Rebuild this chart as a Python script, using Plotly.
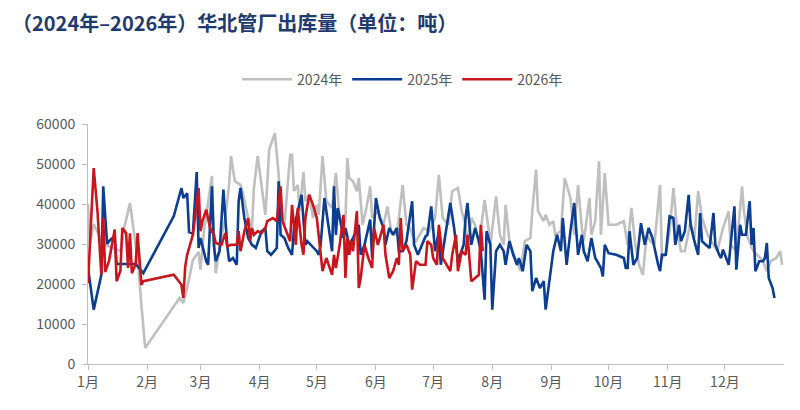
import pandas as pd
import plotly.graph_objects as go

# eixo x: dia do ano (0 = 1 de janeiro)
dias_2024 = [0, 1, 3, 5, 8, 13, 17, 19, 22, 24, 26, 28, 30, 48, 50, 52, 55,
             58, 59, 61, 65, 66, 67, 69, 72, 74, 75, 77, 80, 81, 84, 86, 87, 89, 91, 93, 94, 95, 98,
             100, 101, 103, 106, 107, 108, 110, 111, 113, 114, 116, 118, 120,
             121, 123, 125, 128, 130, 132, 135, 136, 137, 139, 141, 142, 143, 144, 146, 148, 149,
             152, 155, 157, 159, 162, 165, 167, 169, 170, 172, 176, 179,
             182, 184, 186, 189, 191, 194, 196, 198, 199, 201, 203, 205, 208, 210, 211, 214, 216,
             218, 219, 221, 224, 227, 229, 232, 233, 235, 236, 239, 240, 242, 244, 245, 248,
             250, 253, 255, 257, 259, 260, 263, 264, 266, 268, 269, 271, 273, 277, 281, 283, 285,
             287, 289, 291, 293, 295, 297, 300, 301, 303, 305, 307, 309, 311, 313, 316, 318, 320,
             322, 325, 328, 330, 333, 336, 337, 340, 343, 344, 346, 349, 351, 354, 356, 358, 361,
             363, 364]
valores_2024 = [40000, 30000, 35000, 33000, 30000, 29000, 28200, 34000, 40250, 33200, 26500, 14800, 4000,
                16500, 15250, 19000, 26000,
                28000, 23600, 34000, 47000, 32300, 22700, 29400, 36500, 44800, 52000, 45700, 44800,
                43200, 36500, 34000, 44000, 52000, 44800, 37300, 44800, 53600, 57700,
                47300, 39800, 34800, 52300, 52300, 43200, 44800, 38200, 48000, 40700, 42300, 36500, 39800,
                37300, 52000, 40700, 39000, 47750, 36500, 35700, 51500, 46500, 45700, 43200, 46500,
                40700, 34800, 39000, 44400, 36500,
                38200, 34800, 39400, 33200, 32300, 44800, 34800, 34000, 32300, 30700, 34000, 33200,
                36500, 47300, 36500, 34800, 43200, 44000, 38200, 34800, 29800, 36500, 34800, 29800,
                41000, 34000, 29800, 41900, 32300,
                29800, 39800, 30700, 26500, 23200, 30700, 31500, 38200, 48600, 38200, 35700, 37300,
                34800, 35700, 32300, 33200,
                46500, 41500, 32300, 44800, 34000, 30700, 41500, 32300, 35700, 50700, 32300, 47750,
                34800, 34800, 35700, 29800, 39000,
                29800, 24800, 22300, 32300, 30700, 29800, 44800, 26500, 27300, 33200, 44000, 33200,
                28200, 28200, 35700, 31500, 43200,
                36500, 32300, 29800, 28200, 34000, 38200, 29800, 28200, 44400, 38200, 31500, 28200,
                27300, 25700, 23200, 25700, 26500,
                28200, 24800]

dias_2025 = [0, 3, 7, 8, 10, 11, 14, 15, 20, 25, 29, 45, 49, 50, 52, 53, 55, 57, 58,
             59, 62, 63, 65, 66, 67, 69, 71, 73, 74, 76, 78, 79, 80, 82, 84, 86, 88, 91, 93, 94,
             96, 99, 100, 101, 103, 105, 107, 108, 112, 114, 115, 117, 120,
             121, 122, 124, 126, 128, 129, 130, 131, 132, 134, 135, 137, 139, 142, 143, 145, 148,
             149, 151, 153, 155, 156, 158, 160, 162, 163, 165, 167, 170, 171, 173, 175, 177, 178,
             180, 182, 184, 185, 188, 190, 192, 194, 197, 198, 199, 201, 203, 205, 206, 208, 209,
             211, 212, 214, 216, 218, 219, 221, 223, 225, 226, 228, 230, 232, 233, 235, 237, 239,
             240, 242, 244, 246, 248, 249, 251, 253, 255, 257, 259, 260, 262, 264, 266, 267, 269,
             270, 271, 273, 277, 281, 282, 283, 284, 286, 288, 290, 292, 294, 296, 299, 300, 301,
             303, 305, 307, 308, 310, 311, 313, 315, 316, 318, 320, 321, 322, 324, 326, 328, 329,
             331, 332, 333, 335, 336, 337, 339, 340, 342, 343, 345, 347, 348, 349, 350, 352, 354,
             355, 356, 357, 359, 360]
valores_2025 = [24000, 13600, 22300, 44400, 30000, 30700, 32000, 25000, 25000, 25000, 22700, 37000,
                44000, 41500, 42700, 33000, 32600, 48000, 29000,
                31500, 25700, 24800, 44400, 29800, 25700, 28200, 43600, 29800, 25700, 26500, 24800,
                40700, 44000, 36500, 31500, 29800, 29000, 33200, 34000, 28200,
                27300, 29000, 45700, 32300, 31500, 29000, 27300, 34000, 42300, 29800, 30700, 29800, 28200,
                27300, 29800, 41500, 34800, 28200, 44400, 32300, 39000, 36500, 31500, 34000, 29800,
                31500, 34800, 27300, 29800, 36100,
                26500, 41500, 36500, 34000, 29800, 34000, 32300, 34000, 28200, 28200, 30700, 40700,
                29800, 27300, 29800, 31900, 32300,
                39400, 28200, 33200, 24800, 34000, 40250, 34000, 25700, 29800, 36500, 40250, 29800,
                34000, 30700, 28200, 16100, 33200,
                29800, 13600, 28200, 29800, 28200, 24800, 30700, 27300, 24800, 26500, 23200, 29800,
                28200, 18200, 21500, 19000, 20700,
                13600, 21500, 28200, 32300, 28200, 36500, 24800, 33200, 40250, 27300, 32300, 28200,
                25700, 31500, 26500, 25700, 24000,
                21900, 29800, 27700, 27300, 26500, 24000, 24000, 33200, 24800, 26500, 35200, 29800,
                34000, 31500, 24800, 23200, 27300,
                27300, 36900, 36500, 29800, 34800, 30700, 33200, 42300, 34800, 30700, 27300, 37750,
                30700, 29800, 29000, 37750, 29800,
                27300, 26500, 28600, 25700, 24800, 29800, 39400, 23600, 34800, 32300, 32300, 40700,
                29800, 34000, 23200, 25700, 25700,
                26500, 30250, 21500, 19000, 16500]

dias_2026 = [0, 3, 5, 7, 8, 9, 11, 14, 15, 17, 18, 20, 21, 22, 23, 25, 26, 28, 29, 45, 49, 50,
             51, 52, 55, 58, 59, 60, 62, 64, 66, 67, 70, 72, 73, 75, 78, 79, 80, 82, 84, 85, 86,
             87, 89, 91, 93, 94, 97, 99, 101, 102, 104, 106, 107, 109, 110, 112, 113, 114, 116,
             118, 120, 121, 123, 125, 128, 129, 130, 132, 134, 135, 136, 137, 138, 139, 141, 142,
             143, 145, 147, 149, 150, 152, 155, 156, 158, 160, 162, 163, 164, 165, 167, 169, 170,
             172, 174, 177, 178, 180, 181, 183, 184, 186, 188, 190, 191, 193, 194, 196, 198, 199,
             201, 203, 205, 206, 207]
valores_2026 = [20200, 49000, 38000, 22300, 36500, 23000, 25700, 33600, 20700, 23300, 34000, 32700,
                24000, 32700, 22700, 25000, 32700, 19800, 20700, 22300, 19800, 16500,
                24400, 27300, 32300, 44000, 33200, 35700, 38600, 34000, 32300, 30250, 29800, 32700,
                29400, 29800, 29800, 33200, 28200, 33200, 36500, 30700, 34000,
                32300, 33200, 32700, 34000, 35700, 36500, 35700, 44400, 35700, 33200, 30700, 39800,
                29800, 39000, 29800, 27300, 36500, 42300,
                39800, 36500, 32300, 23200, 26500, 22300, 27300, 24000, 29800, 37300, 21500, 31500,
                27300, 30700, 28200, 38200, 19000,
                21500, 29800, 26500, 24000, 34000, 29800, 34800, 27300, 21500, 23200, 26500, 24800,
                36500, 28200, 29800, 27300, 18600,
                25700, 24800, 24800, 30700, 29800, 26500, 24800, 34800, 26500, 24800, 23200, 27300,
                32300, 23200, 28200, 27300, 32300,
                20700, 21500, 22300, 34800, 28200]

meses = ['1月', '2月', '3月', '4月', '5月', '6月', '7月', '8月', '9月', '10月', '11月', '12月']

# ano de referência para o eixo de datas
inicio = pd.Timestamp('2025-01-01')

def para_data(dias):
    return [inicio + pd.Timedelta(days=d) for d in dias]

series = [
    ('2024年', dias_2024, valores_2024, '#BFBFBF'),
    ('2025年', dias_2025, valores_2025, '#0B3D91'),
    ('2026年', dias_2026, valores_2026, '#C8161D'),
]

fig = go.Figure()
for nome, dias, valores, cor in series:
    fig.add_trace(go.Scatter(x=para_data(dias), y=valores, mode='lines', name=nome,
                             line=dict(color=cor, width=2.6)))

inicio_meses = [pd.Timestamp(f'2025-{m:02d}-01') for m in range(1, 13)]

fig.update_layout(
    width=800, height=410,
    paper_bgcolor='white', plot_bgcolor='white',
    margin=dict(l=80, r=24, t=116, b=54),
    font=dict(family='Noto Sans CJK SC', color='#595959', size=13),
    title=dict(text='<b>（2024年–2026年）华北管厂出库量（单位：吨）</b>',
               x=0.005, xanchor='left', y=0.962, yanchor='middle',
               font=dict(size=20, color='#1F3A6E')),
    legend=dict(orientation='h', x=0.452, xanchor='center', y=1.185, yanchor='middle',
                font=dict(size=14, color='#595959'), itemwidth=50),
    showlegend=True,
)
fig.update_xaxes(
    range=[inicio, pd.Timestamp('2026-01-01')],
    tickvals=inicio_meses, ticktext=meses,
    showgrid=False, showline=True, linecolor='#BFBFBF', linewidth=1,
    ticks='outside', ticklen=5, tickcolor='#BFBFBF',
    tickfont=dict(size=14, color='#595959'),
)
fig.update_yaxes(
    range=[0, 60000], tickvals=list(range(0, 60001, 10000)), tickformat='d',
    showgrid=False, showline=True, linecolor='#BFBFBF', linewidth=1,
    ticks='outside', ticklen=5, tickcolor='#BFBFBF', ticklabelstandoff=4,
    tickfont=dict(size=14, color='#595959'), zeroline=False,
)

fig.write_html('out.html')
